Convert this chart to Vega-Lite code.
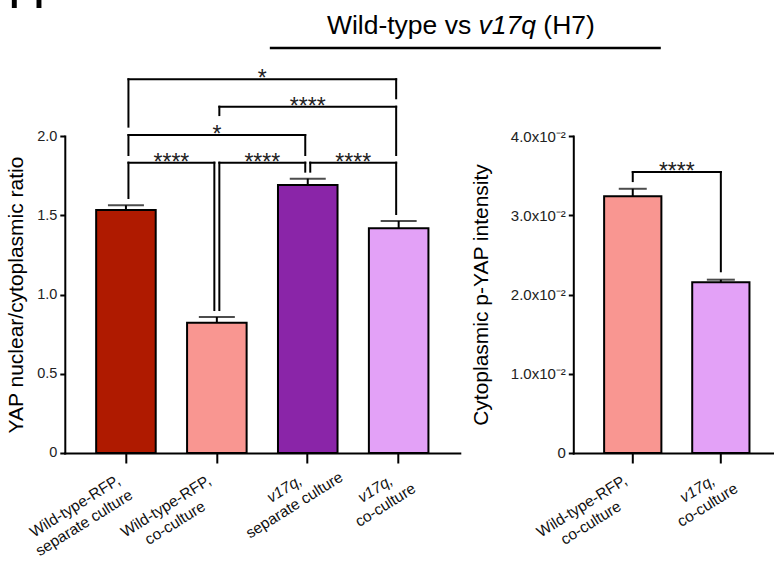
{
  "$schema": "https://vega.github.io/schema/vega-lite/v6.json",
  "autosize": {"type": "pad"},
  "padding": {"left": 4.8, "top": -34, "right": 0, "bottom": 0},
  "background": "white",
  "config": {
    "font": "Liberation Sans",
    "view": {"stroke": null},
    "axis": {
      "domainColor": "black", "domainWidth": 2, "domainCap": "square",
      "tickColor": "black", "tickWidth": 2, "grid": false,
      "labelColor": "#222", "labelFont": "Liberation Sans",
      "titleFont": "Liberation Sans", "titleColor": "black", "titleFontWeight": "normal"
    },
    "axisX": {"title": null, "labels": false, "tickSize": 10}
  },
  "bounds": "flush",
  "spacing": 88,
  "vconcat": [
    {
      "width": 596,
      "height": 14,
      "data": {"values": [{}]},
      "layer": [
        {
          "mark": {"type": "rule", "color": "black", "strokeWidth": 2.5},
          "encoding": {
            "x": {"datum": 0.344, "type": "quantitative", "scale": {"domain": [0, 1]}, "axis": null},
            "x2": {"datum": 1},
            "y": {"datum": 0, "type": "quantitative", "scale": {"domain": [0, 1]}, "axis": null}
          }
        },
        {
          "mark": {"type": "text", "align": "right", "baseline": "alphabetic", "dx": -36.1, "dy": -14.5, "fontSize": 26.5, "color": "black"},
          "encoding": {
            "x": {"datum": 0.7424, "type": "quantitative"},
            "y": {"datum": 0, "type": "quantitative"},
            "text": {"value": "Wild-type vs"}
          }
        },
        {
          "mark": {"type": "text", "align": "center", "baseline": "alphabetic", "dy": -14.5, "fontSize": 26.5, "fontStyle": "italic", "color": "black"},
          "encoding": {
            "x": {"datum": 0.7424, "type": "quantitative"},
            "y": {"datum": 0, "type": "quantitative"},
            "text": {"value": "v17q"}
          }
        },
        {
          "mark": {"type": "text", "align": "left", "baseline": "alphabetic", "dx": 36.1, "dy": -14.5, "fontSize": 26.5, "color": "black"},
          "encoding": {
            "x": {"datum": 0.7424, "type": "quantitative"},
            "y": {"datum": 0, "type": "quantitative"},
            "text": {"value": "(H7)"}
          }
        },
        {
          "mark": {"type": "text", "align": "left", "baseline": "alphabetic", "dx": -57.2, "dy": -40, "fontSize": 53, "color": "black"},
          "encoding": {
            "x": {"datum": 0, "type": "quantitative"},
            "y": {"datum": 0, "type": "quantitative"},
            "text": {"value": "H"}
          }
        }
      ]
    },
    {
      "hconcat": [
        {
          "width": 395,
          "height": 317,
          "resolve": {"scale": {"x": "independent"}},
          "layer": [
            {
              "data": {"values": [
                {"group": "Wild-type-RFP, separate culture", "mean": 1.533, "sem": 0.030},
                {"group": "Wild-type-RFP, co-culture", "mean": 0.822, "sem": 0.036},
                {"group": "v17q, separate culture", "mean": 1.691, "sem": 0.040},
                {"group": "v17q, co-culture", "mean": 1.418, "sem": 0.046}
              ]},
              "transform": [
                {"calculate": "split(datum.group, ', ')[0] + ','", "as": "line1"},
                {"calculate": "split(datum.group, ', ')[1]", "as": "line2"}
              ],
              "encoding": {
                "x": {
                  "field": "group", "type": "nominal", "sort": null,
                  "scale": {"paddingInner": 0.345, "paddingOuter": 0.345}
                }
              },
              "layer": [
                {
                  "mark": {"type": "errorbar", "color": "black", "thickness": 2, "ticks": {"size": 36, "thickness": 2, "color": "black"}},
                  "encoding": {
                    "y": {
                      "field": "mean", "type": "quantitative",
                      "scale": {"domain": [0, 2], "nice": false},
                      "axis": {
                        "title": "YAP nuclear/cytoplasmic ratio", "titleFontSize": 21,
                        "values": [0, 0.5, 1, 1.5, 2],
                        "labelExpr": "datum.value == 0 ? '0' : format(datum.value, '.1f')",
                        "labelFontSize": 14.5, "tickSize": 5, "labelPadding": 3, "titlePadding": 10
                      }
                    },
                    "yError": {"field": "sem"}
                  }
                },
                {
                  "mark": {"type": "bar", "stroke": "black", "strokeWidth": 2},
                  "encoding": {
                    "y": {
                      "field": "mean", "type": "quantitative",
                      "scale": {"domain": [0, 2], "nice": false},
                      "axis": {
                        "title": "YAP nuclear/cytoplasmic ratio", "titleFontSize": 21,
                        "values": [0, 0.5, 1, 1.5, 2],
                        "labelExpr": "datum.value == 0 ? '0' : format(datum.value, '.1f')",
                        "labelFontSize": 14.5, "tickSize": 5, "labelPadding": 3, "titlePadding": 10
                      }
                    },
                    "color": {
                      "field": "group", "type": "nominal", "legend": null,
                      "scale": {
                        "domain": ["Wild-type-RFP, separate culture", "Wild-type-RFP, co-culture", "v17q, separate culture", "v17q, co-culture"],
                        "range": ["#AF1A00", "#F99691", "#8A25A8", "#E3A1F7"]
                      }
                    }
                  }
                },
                {
                  "transform": [{"filter": "indexof(datum.group, 'Wild') == 0"}],
                  "mark": {"type": "text", "angle": -32, "align": "right", "baseline": "top", "dx": -19.9, "dy": 11.1, "fontSize": 15.5, "color": "#111"},
                  "encoding": {"y": {"datum": 0, "type": "quantitative"}, "text": {"field": "line1"}}
                },
                {
                  "transform": [{"filter": "indexof(datum.group, 'Wild') == 0"}],
                  "mark": {"type": "text", "angle": -32, "align": "center", "baseline": "top", "dx": -72.5, "dy": 30.1, "fontSize": 15.5, "color": "#111"},
                  "encoding": {"y": {"datum": 0, "type": "quantitative"}, "text": {"field": "line2"}}
                },
                {
                  "transform": [{"filter": "indexof(datum.group, 'v17q') == 0"}],
                  "mark": {"type": "text", "angle": -32, "align": "right", "baseline": "top", "dx": -19.9, "dy": 11.1, "fontSize": 15.5, "fontStyle": "italic", "color": "#111"},
                  "encoding": {"y": {"datum": 0, "type": "quantitative"}, "text": {"field": "line1"}}
                },
                {
                  "transform": [{"filter": "indexof(datum.group, 'v17q') == 0"}],
                  "mark": {"type": "text", "angle": -32, "align": "center", "baseline": "top", "dx": -38.9, "dy": 30.1, "fontSize": 15.5, "color": "#111"},
                  "encoding": {"y": {"datum": 0, "type": "quantitative"}, "text": {"field": "line2"}}
                }
              ]
            },
            {
              "data": {"values": [
                {"a": 1, "b": 2, "h": 1.832, "ya": 1.609, "yb": 0.902, "sig": "****"},
                {"a": 2, "b": 3, "h": 1.832, "ya": 0.902, "yb": 1.775, "sig": "****"},
                {"a": 3, "b": 4, "h": 1.832, "ya": 1.775, "yb": 1.508, "sig": "****"},
                {"a": 1, "b": 3, "h": 2.006, "ya": 1.880, "yb": 1.880, "sig": "*"},
                {"a": 2, "b": 4, "h": 2.185, "ya": 2.132, "yb": 1.880, "sig": "****"},
                {"a": 1, "b": 4, "h": 2.358, "ya": 2.059, "yb": 2.238, "sig": "*"}
              ]},
              "transform": [{"calculate": "(datum.a + datum.b) / 2", "as": "mid"}],
              "layer": [
                {
                  "mark": {"type": "rule", "color": "black", "strokeWidth": 2, "strokeCap": "square", "xOffset": 2.5, "x2Offset": -2.5},
                  "encoding": {
                    "x": {"field": "a", "type": "quantitative", "scale": {"domain": [0.3275, 4.6725], "nice": false, "zero": false}, "axis": null},
                    "x2": {"field": "b"},
                    "y": {"field": "h", "type": "quantitative"}
                  }
                },
                {
                  "mark": {"type": "rule", "color": "black", "strokeWidth": 2, "strokeCap": "square", "xOffset": 2.5},
                  "encoding": {
                    "x": {"field": "a", "type": "quantitative", "axis": null},
                    "y": {"field": "h", "type": "quantitative"},
                    "y2": {"field": "ya"}
                  }
                },
                {
                  "mark": {"type": "rule", "color": "black", "strokeWidth": 2, "strokeCap": "square", "xOffset": -2.5},
                  "encoding": {
                    "x": {"field": "b", "type": "quantitative", "axis": null},
                    "y": {"field": "h", "type": "quantitative"},
                    "y2": {"field": "yb"}
                  }
                },
                {
                  "mark": {"type": "text", "fontSize": 23, "color": "#222", "baseline": "alphabetic", "align": "center", "dy": 7},
                  "encoding": {
                    "x": {"field": "mid", "type": "quantitative", "axis": null},
                    "y": {"field": "h", "type": "quantitative"},
                    "text": {"field": "sig"}
                  }
                }
              ]
            }
          ]
        },
        {
          "width": 207,
          "height": 317,
          "resolve": {"scale": {"x": "independent"}},
          "layer": [
            {
              "data": {"values": [
                {"group": "Wild-type-RFP, co-culture", "mean": 0.03241, "sem": 0.00093},
                {"group": "v17q, co-culture", "mean": 0.02153, "sem": 0.00034}
              ]},
              "transform": [
                {"calculate": "split(datum.group, ', ')[0] + ','", "as": "line1"},
                {"calculate": "split(datum.group, ', ')[1]", "as": "line2"}
              ],
              "encoding": {
                "x": {
                  "field": "group", "type": "nominal", "sort": null,
                  "scale": {"paddingInner": 0.35, "paddingOuter": 0.35}
                }
              },
              "layer": [
                {
                  "mark": {"type": "errorbar", "color": "black", "thickness": 2, "ticks": {"size": 28, "thickness": 2, "color": "black"}},
                  "encoding": {
                    "y": {
                      "field": "mean", "type": "quantitative",
                      "scale": {"domain": [0, 0.04], "nice": false},
                      "axis": {
                        "title": "Cytoplasmic p-YAP intensity", "titleFontSize": 21,
                        "values": [0, 0.01, 0.02, 0.03, 0.04],
                        "labelExpr": "datum.value == 0 ? '0' : format(datum.value * 100, '.1f') + 'x10⁻²'",
                        "labelFontSize": 15, "tickSize": 5, "labelPadding": 3, "titlePadding": 19
                      }
                    },
                    "yError": {"field": "sem"}
                  }
                },
                {
                  "mark": {"type": "bar", "stroke": "black", "strokeWidth": 2},
                  "encoding": {
                    "y": {
                      "field": "mean", "type": "quantitative",
                      "scale": {"domain": [0, 0.04], "nice": false},
                      "axis": {
                        "title": "Cytoplasmic p-YAP intensity", "titleFontSize": 21,
                        "values": [0, 0.01, 0.02, 0.03, 0.04],
                        "labelExpr": "datum.value == 0 ? '0' : format(datum.value * 100, '.1f') + 'x10⁻²'",
                        "labelFontSize": 15, "tickSize": 5, "labelPadding": 3, "titlePadding": 19
                      }
                    },
                    "color": {
                      "field": "group", "type": "nominal", "legend": null,
                      "scale": {
                        "domain": ["Wild-type-RFP, co-culture", "v17q, co-culture"],
                        "range": ["#F99691", "#E3A1F7"]
                      }
                    }
                  }
                },
                {
                  "transform": [{"filter": "indexof(datum.group, 'Wild') == 0"}],
                  "mark": {"type": "text", "angle": -32, "align": "right", "baseline": "top", "dx": -19.9, "dy": 11.1, "fontSize": 15.5, "color": "#111"},
                  "encoding": {"y": {"datum": 0, "type": "quantitative"}, "text": {"field": "line1"}}
                },
                {
                  "transform": [{"filter": "indexof(datum.group, 'Wild') == 0"}],
                  "mark": {"type": "text", "angle": -32, "align": "center", "baseline": "top", "dx": -72.5, "dy": 30.1, "fontSize": 15.5, "color": "#111"},
                  "encoding": {"y": {"datum": 0, "type": "quantitative"}, "text": {"field": "line2"}}
                },
                {
                  "transform": [{"filter": "indexof(datum.group, 'v17q') == 0"}],
                  "mark": {"type": "text", "angle": -32, "align": "right", "baseline": "top", "dx": -19.9, "dy": 11.1, "fontSize": 15.5, "fontStyle": "italic", "color": "#111"},
                  "encoding": {"y": {"datum": 0, "type": "quantitative"}, "text": {"field": "line1"}}
                },
                {
                  "transform": [{"filter": "indexof(datum.group, 'v17q') == 0"}],
                  "mark": {"type": "text", "angle": -32, "align": "center", "baseline": "top", "dx": -38.9, "dy": 30.1, "fontSize": 15.5, "color": "#111"},
                  "encoding": {"y": {"datum": 0, "type": "quantitative"}, "text": {"field": "line2"}}
                }
              ]
            },
            {
              "data": {"values": [
                {"a": 1, "b": 2, "h": 0.03545, "ya": 0.03431, "yb": 0.02293, "sig": "****"}
              ]},
              "transform": [{"calculate": "(datum.a + datum.b) / 2", "as": "mid"}],
              "layer": [
                {
                  "mark": {"type": "rule", "color": "black", "strokeWidth": 2, "strokeCap": "square"},
                  "encoding": {
                    "x": {"field": "a", "type": "quantitative", "scale": {"domain": [0.325, 2.675], "nice": false, "zero": false}, "axis": null},
                    "x2": {"field": "b"},
                    "y": {"field": "h", "type": "quantitative"}
                  }
                },
                {
                  "mark": {"type": "rule", "color": "black", "strokeWidth": 2, "strokeCap": "square"},
                  "encoding": {
                    "x": {"field": "a", "type": "quantitative", "axis": null},
                    "y": {"field": "h", "type": "quantitative"},
                    "y2": {"field": "ya"}
                  }
                },
                {
                  "mark": {"type": "rule", "color": "black", "strokeWidth": 2, "strokeCap": "square"},
                  "encoding": {
                    "x": {"field": "b", "type": "quantitative", "axis": null},
                    "y": {"field": "h", "type": "quantitative"},
                    "y2": {"field": "yb"}
                  }
                },
                {
                  "mark": {"type": "text", "fontSize": 23, "color": "#222", "baseline": "alphabetic", "align": "center", "dy": 7},
                  "encoding": {
                    "x": {"field": "mid", "type": "quantitative", "axis": null},
                    "y": {"field": "h", "type": "quantitative"},
                    "text": {"field": "sig"}
                  }
                }
              ]
            }
          ]
        }
      ],
      "spacing": 113.5,
      "bounds": "flush"
    }
  ]
}
